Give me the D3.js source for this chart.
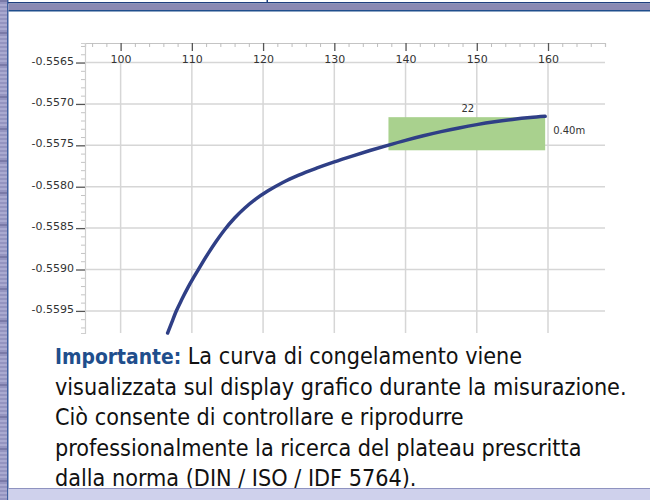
<!DOCTYPE html>
<html><head><meta charset="utf-8">
<script src="https://cdn.jsdelivr.net/npm/d3@7"></script>
<style>
html,body{margin:0;padding:0;background:#fff;}
svg{display:block;}
</style></head>
<body>
<script>
// ---- data ----
const times  = [106.6,107.2,107.8,108.6,109.5,110.4,111.2,112.3,113.4,114.6,116.0,117.4,119.0,120.7,122.7,125.0,127.5,130.0,132.5,135.0,137.5,140.0,142.5,145.0,147.5,150.0,152.5,155.0,157.5,159.6];
const values = [-0.559767,-0.559635,-0.559505,-0.559360,-0.559210,-0.559075,-0.558958,-0.558805,-0.558662,-0.558520,-0.558378,-0.558260,-0.558148,-0.558050,-0.557952,-0.557860,-0.557776,-0.557700,-0.557630,-0.557563,-0.557500,-0.557440,-0.557385,-0.557335,-0.557290,-0.557250,-0.557216,-0.557188,-0.557165,-0.557150];
const xTicks = [100,110,120,130,140,150,160];
const yTicks = [-0.5565,-0.5570,-0.5575,-0.5580,-0.5585,-0.5590,-0.5595];
const boxTimes  = [137.6, 159.6];
const boxValues = [-0.55716, -0.55756];
const boxWidthLabel = "22";
const boxHeightLabel = "0.40m";
const textLines = [
  [{t:"Importante: ", b:true}, {t:"La curva di congelamento viene"}],
  [{t:"visualizzata sul display grafico durante la misurazione."}],
  [{t:"Ciò consente di controllare e riprodurre"}],
  [{t:"professionalmente la ricerca del plateau prescritta"}],
  [{t:"dalla norma (DIN / ISO / IDF 5764)."}]
];

const W = 650, H = 500;
const svg = d3.select("body").append("svg").attr("width", W).attr("height", H);

// ---- slide frame ----
const frame = svg.append("g");
frame.append("rect").attr("x",0).attr("y",0).attr("width",7).attr("height",H).attr("fill","#9494c0");
const stripeG = frame.append("g");
for (let yy = 0; yy < H; yy += 4) {
  stripeG.append("rect").attr("x",0).attr("y",yy).attr("width",7).attr("height",2)
    .attr("fill", (yy/4)%8===0 ? "#7a7aa8" : "#a9a9d0");
}
frame.append("rect").attr("x",7).attr("y",0).attr("width",1.5).attr("height",H).attr("fill","#3f5f9f");
frame.append("rect").attr("x",8).attr("y",2).attr("width",W-8).attr("height",1.5).attr("fill","#1f3f7f");
frame.append("rect").attr("x",266.5).attr("y",0).attr("width",1.5).attr("height",3).attr("fill","#1f3f7f");
frame.append("rect").attr("x",8.5).attr("y",3.5).attr("width",W-8.5).attr("height",6.5).attr("fill","#8a89b3");
frame.append("rect").attr("x",8.5).attr("y",10).attr("width",W-8.5).attr("height",1.5).attr("fill","#1f4e8c");

// ---- chart ----
const x = d3.scaleLinear().domain([95, 168]).range([85, 605]);
const y = d3.scaleLinear().domain([-0.556264, -0.559767]).range([43, 333]);
const chart = svg.append("g").style("font-family","'DejaVu Sans', sans-serif");
const fmtY = d => d.toFixed(4);

// gridlines
chart.append("g").selectAll("line").data(yTicks).join("line")
  .attr("x1", x(95)).attr("x2", x(168)).attr("y1", d=>y(d)).attr("y2", d=>y(d))
  .attr("stroke","#d6d6d6").attr("stroke-width",1.5);
chart.append("g").selectAll("line").data(xTicks).join("line")
  .attr("x1", d=>x(d)).attr("x2", d=>x(d)).attr("y1", y(yTicks[0])).attr("y2", y(-0.559767))
  .attr("stroke","#d6d6d6").attr("stroke-width",1.5);

// x axis (top) minor + major
const xMinor = d3.range(96, 168, 2).filter(v => v % 10 !== 0);
const gxm = chart.append("g").attr("transform",`translate(0,${y(-0.556264)})`)
  .call(d3.axisBottom(x).tickValues(xMinor).tickSize(4).tickFormat(""));
gxm.select(".domain").attr("stroke","#c4c4c4").attr("stroke-width",1.2);
gxm.selectAll(".tick line").attr("stroke","#bdbdbd");
const gx = chart.append("g").attr("transform",`translate(0,${y(-0.556264)})`)
  .call(d3.axisBottom(x).tickValues(xTicks).tickSize(8).tickPadding(4).tickFormat(d3.format("d")));
gx.select(".domain").remove();
gx.selectAll(".tick line").attr("stroke","#555").attr("stroke-width",1.3);
gx.selectAll(".tick text").attr("fill","#333").style("font-size","11px").style("font-family","'DejaVu Sans', sans-serif");

// y axis minor + major
const yMinor = d3.range(0, 36).map(i => -0.5562 - i*0.0001).filter(v => v > -0.559767 && v < -0.556264 && !yTicks.some(t => Math.abs(t-v) < 1e-7));
const gym = chart.append("g").attr("transform",`translate(${x(95)},0)`)
  .call(d3.axisLeft(y).tickValues(yMinor).tickSize(4).tickFormat(""));
gym.select(".domain").attr("stroke","#cfcfcf").attr("stroke-width",1.2);
gym.selectAll(".tick line").attr("stroke","#c4c4c4");
const gy = chart.append("g").attr("transform",`translate(${x(95)},0)`)
  .call(d3.axisLeft(y).tickValues(yTicks).tickSize(9).tickPadding(2).tickFormat(fmtY));
gy.select(".domain").remove();
gy.selectAll(".tick line").attr("stroke","#555").attr("stroke-width",1.3);
gy.selectAll(".tick text").attr("fill","#333").attr("dy","0.15em").style("font-size","11px").style("font-family","'DejaVu Sans', sans-serif");

// green box
chart.append("rect")
  .attr("x", x(boxTimes[0])).attr("y", y(boxValues[0]))
  .attr("width", x(boxTimes[1]) - x(boxTimes[0]))
  .attr("height", y(boxValues[1]) - y(boxValues[0]))
  .attr("fill","#a9d18e");
chart.append("text").attr("x", (x(boxTimes[0])+x(boxTimes[1]))/2 + 1).attr("y", y(boxValues[0]) - 5)
  .attr("text-anchor","middle").attr("fill","#333").style("font-size","10px").text(boxWidthLabel);
chart.append("text").attr("x", x(boxTimes[1]) + 8).attr("y", (y(boxValues[0])+y(boxValues[1]))/2)
  .attr("fill","#333").style("font-size","10px").text(boxHeightLabel);

// curve
const pts = times.map((t,i)=>[t, values[i]]);
chart.append("path").datum(pts)
  .attr("d", d3.line().x(d=>x(d[0])).y(d=>y(d[1])).curve(d3.curveMonotoneX))
  .attr("fill","none").attr("stroke","#2f3f86").attr("stroke-width",3.5).attr("stroke-linecap","round");

// ---- text block ----
const tg = svg.append("g").style("font-family","'DejaVu Sans',sans-serif").style("font-stretch","condensed");
const baselines = [364, 394.5, 425, 455.5, 486];
let fs = 22;
const texts = textLines.map((line,i) => {
  const t = tg.append("text").attr("x",55).attr("y",baselines[i]).attr("fill","#111");
  line.forEach(seg => {
    const s = t.append("tspan").text(seg.t);
    if (seg.b) s.attr("fill","#1f4e8c").style("font-weight","bold").style("font-size","0.9em");
  });
  return t;
});
tg.style("font-size", fs + "px");
const w2 = texts[1].node().getComputedTextLength();
fs = fs * 572 / w2;
tg.style("font-size", fs + "px");

// bottom band (drawn over text)
svg.append("rect").attr("x",8.5).attr("y",488).attr("width",W-8.5).attr("height",1).attr("fill","#8f93c0");
svg.append("rect").attr("x",8.5).attr("y",489).attr("width",W-8.5).attr("height",11).attr("fill","#cfd1ec");
</script>
</body></html>
